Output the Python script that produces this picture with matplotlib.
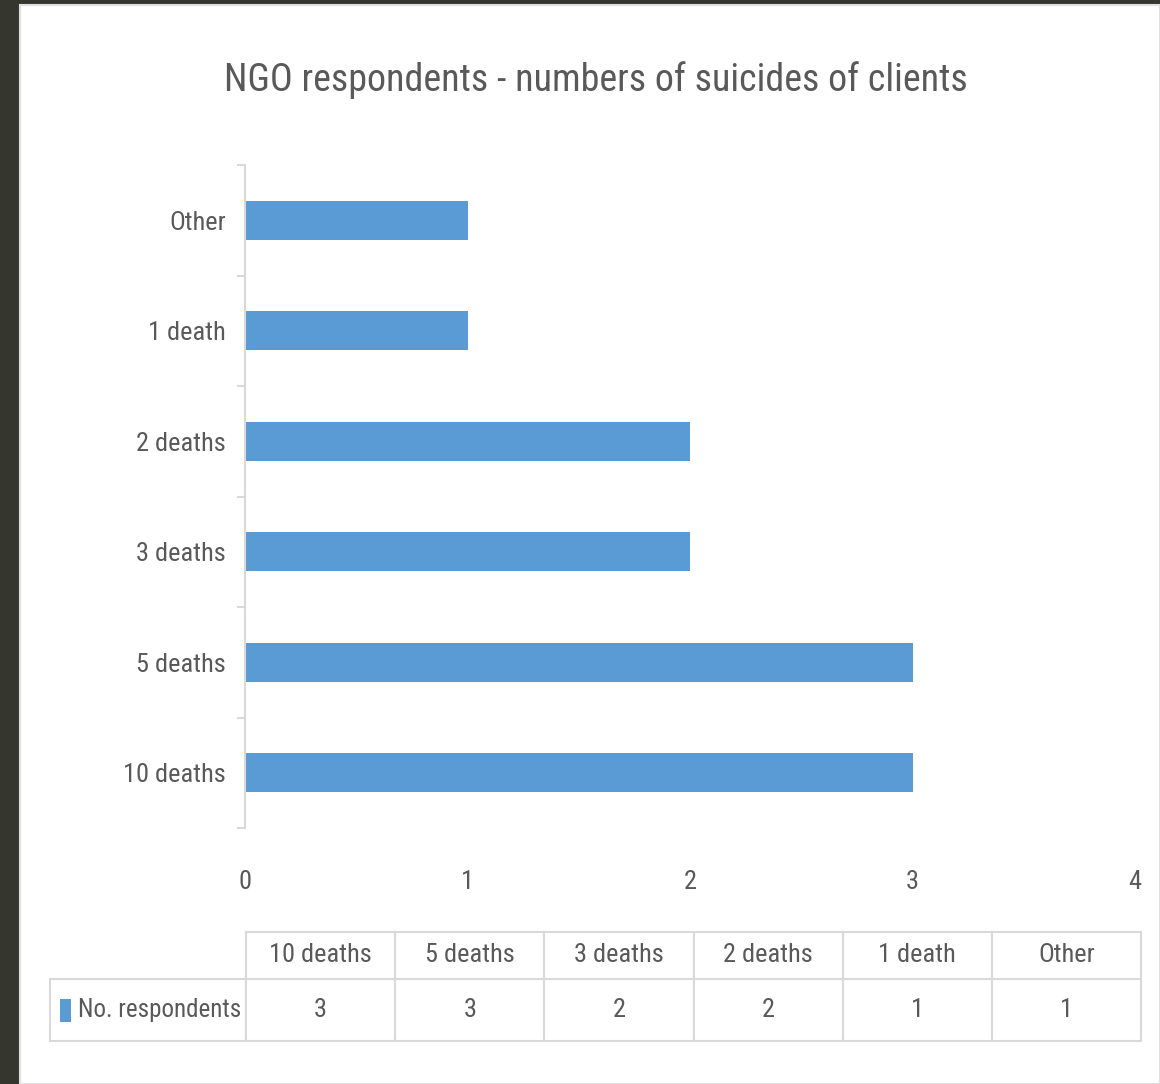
import matplotlib
matplotlib.use("Agg")
import matplotlib.pyplot as plt
from matplotlib import font_manager
from matplotlib.patches import Rectangle
from matplotlib.table import Table

# pick the narrowest sans family that is installed
names = {f.name for f in font_manager.fontManager.ttflist}
family = 'DejaVu Sans'
for cand in ['Liberation Sans Narrow', 'Roboto Condensed', 'Open Sans Condensed',
             'Noto Sans Condensed', 'DejaVu Sans Condensed', 'Liberation Sans']:
    if cand in names:
        family = cand
        break
plt.rcParams['font.family'] = [family, 'DejaVu Sans']

categories = ['10 deaths', '5 deaths', '3 deaths', '2 deaths', '1 death', 'Other']
respondents = [3, 3, 2, 2, 1, 1]
series_name = 'No. respondents'
x_ticks = [0, 1, 2, 3, 4]
title = 'NGO respondents - numbers of suicides of clients'

bar_color = '#5B9BD5'
text_color = '#595959'
line_color = '#D9D9D9'

W, H = 1160, 1084
fig = plt.figure(figsize=(W / 100, H / 100), dpi=100, facecolor='#35372F')

# white chart panel inside the dark frame
fig.patches.append(Rectangle((20 / W, 0), 1 - 20 / W, 1 - 5 / H,
                             transform=fig.transFigure, facecolor='white',
                             edgecolor='#E0E0E0', linewidth=1.5, zorder=-5))

ax = fig.add_axes([245 / W, 1 - 828 / H, 890 / W, 663 / H])
ax.set_facecolor('none')

ypos = list(range(len(categories)))
ax.barh(ypos, respondents, height=0.35, color=bar_color)

ax.set_xlim(0, 4)
ax.set_ylim(-0.5, len(categories) - 0.5)
ax.set_xticks(x_ticks)
ax.set_xticklabels([str(t) for t in x_ticks])
ax.set_yticks(ypos)
ax.set_yticklabels(categories)
ax.set_yticks([p - 0.5 for p in range(len(categories) + 1)], minor=True)

for s in ['top', 'right', 'bottom']:
    ax.spines[s].set_visible(False)
ax.spines['left'].set_color(line_color)
ax.spines['left'].set_linewidth(1.5)

ax.tick_params(axis='x', length=0, pad=30, labelsize=19, labelcolor=text_color)
ax.tick_params(axis='y', which='major', length=0, pad=14, labelsize=19, labelcolor=text_color)
ax.tick_params(axis='y', which='minor', length=6, width=1.5, color=line_color)

fig.text(596 / W, 1 - 80 / H, title, ha='center', va='center',
         fontsize=27.4, color=text_color)

# data table under the axis: label column + one column per category
col_w = 149
lab_w = 196
head_h, row_h = 47, 62
tbl = Table(ax, bbox=[(50 - 245) / 890, -(1041 - 828) / 663,
                      (1141 - 50) / 890, (1041 - 932) / 663])
tbl.auto_set_font_size(False)
tbl.set_fontsize(19)

corner = tbl.add_cell(0, 0, lab_w, head_h, text='')
corner.visible_edges = ''
for j, cat in enumerate(categories):
    tbl.add_cell(0, j + 1, col_w, head_h, text=cat, loc='center')
lab = tbl.add_cell(1, 0, lab_w, row_h, text=series_name, loc='left')
lab.PAD = 0.143
for j, v in enumerate(respondents):
    tbl.add_cell(1, j + 1, col_w, row_h, text=str(v), loc='center')

for cell in tbl.get_celld().values():
    cell.set_edgecolor(line_color)
    cell.set_linewidth(1.5)
    cell.get_text().set_color(text_color)
    cell.get_text().set_fontsize(19)
lab.get_text().set_fontsize(18)
ax.add_table(tbl)

# legend key in the row label cell
fig.patches.append(Rectangle((60 / W, 1 - 1022 / H), 11 / W, 23 / H,
                             transform=fig.transFigure, facecolor=bar_color,
                             edgecolor='none', zorder=5))

fig.savefig('out.png', dpi=100, facecolor=fig.get_facecolor())
